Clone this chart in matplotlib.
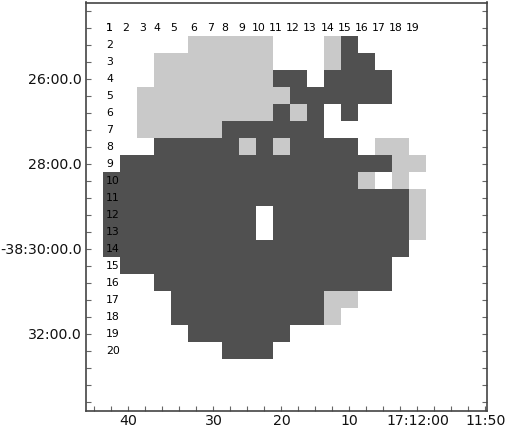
import numpy as np
import matplotlib
matplotlib.use('Agg')
import matplotlib.pyplot as plt
from matplotlib.colors import ListedColormap

# grid of cells, row 1 at the top: . = empty, L = light, D = dark
grid_rows = [
    "...................",
    ".....LLLLL...LD....",
    "...LLLLLLL...LDD...",
    "...LLLLLLLDD.DDDD..",
    "..LLLLLLLLLDDDDDD..",
    "..LLLLLLLLDLD.D....",
    "..LLLLLDDDDDD......",
    "...DDDDDLDLDDDD.LL.",
    ".DDDDDDDDDDDDDDDDLL",
    "DDDDDDDDDDDDDDDL.L.",
    "DDDDDDDDDDDDDDDDDDL",
    "DDDDDDDDD.DDDDDDDDL",
    "DDDDDDDDD.DDDDDDDDL",
    "DDDDDDDDDDDDDDDDDD.",
    ".DDDDDDDDDDDDDDDD..",
    "...DDDDDDDDDDDDDD..",
    "....DDDDDDDDDLL....",
    "....DDDDDDDDDL.....",
    ".....DDDDDD........",
    ".......DDD.........",
]

row_numbers = list(range(1, 21))
col_numbers = list(range(1, 20))
col_number_pos = [0.85, 1.85, 2.85, 3.68, 4.68, 5.85, 6.85, 7.68, 8.68, 9.68,
                  10.68, 11.68, 12.68, 13.74, 14.74, 15.74, 16.74, 17.74, 18.74]

xtick_pos = [2, 7, 11, 15, 19, 23]
xtick_labels = ['40', '30', '20', '10', '17:12:00', '11:50']
ytick_pos = [4, 9, 14, 19]
ytick_labels = ['26:00.0', '28:00.0', '-38:30:00.0', '32:00.0']

codes = {'.': 0, 'L': 1, 'D': 2}
grid = np.array([[codes[ch] for ch in row] for row in grid_rows])
cmap = ListedColormap(['#ffffff', '#c9c9c9', '#505050'])

fig = plt.figure(figsize=(5.09, 4.29), dpi=100)
ax = fig.add_axes([86 / 509, 1 - 411 / 429, (487 - 86) / 509, (411 - 2.5) / 429])

ax.imshow(grid, cmap=cmap, vmin=0, vmax=2, aspect='auto', interpolation='nearest',
          extent=[0.5, 19.5, 20.5, 0.5])

ax.set_xlim(-0.5, 23.09)
ax.set_ylim(23.53, -0.5)

# cell numbers along the top and down the left of the grid
for n, x in zip(col_numbers, col_number_pos):
    ax.text(x, 1, str(n), fontsize=7.8, ha='center', va='center', color='black')
for n in row_numbers:
    ax.text(0.68, n, str(n), fontsize=7.8, ha='left', va='center', color='black')

ax.set_xticks(xtick_pos)
ax.set_xticklabels(xtick_labels, fontsize=10.2)
ax.set_xticks(np.arange(0, 23), minor=True)
ax.set_yticks(ytick_pos)
ax.set_yticklabels(ytick_labels, fontsize=10.2)
ax.set_yticks(np.arange(0, 24), minor=True)

ax.tick_params(which='both', direction='in', length=3.6, width=0.8, color='#666666',
               top=False, right=True, bottom=True, left=True)
ax.tick_params(axis='x', which='major', pad=2, labelcolor='#111111')
ax.tick_params(axis='y', which='major', pad=3, labelcolor='#111111')

for spine in ax.spines.values():
    spine.set_linewidth(1.2)
    spine.set_color('#444444')

fig.savefig('out.png', dpi=100)
